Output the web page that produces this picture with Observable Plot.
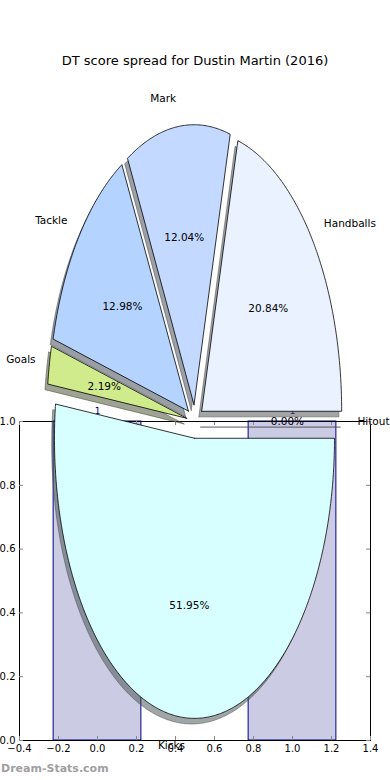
<!DOCTYPE html>
<html><head><meta charset="utf-8">
<script src="https://cdn.jsdelivr.net/npm/d3@7"></script>
<script src="https://cdn.jsdelivr.net/npm/@observablehq/plot@0.6"></script>
<style>
body{margin:0;background:#fff;font-family:"DejaVu Sans",sans-serif;}
#wrap{position:relative;width:390px;height:780px;overflow:hidden;}
#chart{position:absolute;left:0;top:0;}
#title{position:absolute;left:0;width:390px;top:53px;text-align:center;font-size:13px;line-height:16px;color:#000;}
#wm{position:absolute;left:1px;top:762px;font-size:11px;font-weight:bold;color:#a0a0a0;}
</style></head><body>
<div id="wrap"><div id="chart"></div><div id="title">DT score spread for Dustin Martin (2016)</div><div id="wm">Dream-Stats.com</div></div>
<script>
// ---- data ----
const sliceLabels = ["Handballs", "Mark", "Tackle", "Goals", "Kicks", "Hitout"];
const sliceValues = [20.84, 12.04, 12.98, 2.19, 51.95, 0.00];
const sliceColors = ["#eaf2ff", "#c4d9ff", "#b4d4ff", "#cfeb8c", "#d8ffff", "#e6e6ff"];
const barX = [0, 1];
const barValues = [1, 1];
const xTicks = [-0.4, -0.2, 0, 0.2, 0.4, 0.6, 0.8, 1.0, 1.2, 1.4];
const yTicks = [0, 0.2, 0.4, 0.6, 0.8, 1.0];

// ---- geometry (data units) ----
const pieCx = 0.5, pieCy = 1.0, pieRx = 0.718, pieRy = 0.878;
const explode = 0.06, labelDist = 1.1, pctDist = 0.6;
const shadowDx = -0.02 * pieRx, shadowDy = -0.02 * pieRy;
const barWidth = 0.45;
const tickLenX = 4 / 319, tickLenY = 4 / 195;

const total = d3.sum(sliceValues);
let acc = 0;
const slices = sliceLabels.map((label, i) => {
  const t1 = acc / total * 360; acc += sliceValues[i]; const t2 = acc / total * 360;
  const mid = (t1 + t2) / 2 * Math.PI / 180;
  const cx = pieCx + explode * pieRx * Math.cos(mid);
  const cy = pieCy + explode * pieRy * Math.sin(mid);
  const pts = [[cx, cy]];
  const n = Math.max(1, Math.ceil((t2 - t1) / 0.5));
  for (let k = 0; k <= n; k++) {
    const a = (t1 + (t2 - t1) * k / n) * Math.PI / 180;
    pts.push([cx + pieRx * Math.cos(a), cy + pieRy * Math.sin(a)]);
  }
  pts.push([cx, cy]);
  const c = d3.rgb(sliceColors[i]);
  return {
    label, value: sliceValues[i], color: sliceColors[i],
    shadow: d3.rgb(c.r * 0.3, c.g * 0.3, c.b * 0.3).formatHex(),
    pts, mid,
    lx: cx + labelDist * pieRx * Math.cos(mid), ly: cy + labelDist * pieRy * Math.sin(mid),
    px: cx + pctDist * pieRx * Math.cos(mid), py: cy + pctDist * pieRy * Math.sin(mid)
  };
});
const bars = barX.map((x, i) => ({x, v: barValues[i]}));
const fmt = d3.format(".1f");

const marks = [
  Plot.rectY(bars, {x1: d => d.x - barWidth / 2, x2: d => d.x + barWidth / 2, y1: 0, y2: d => d.v,
    fill: "#cbcbe3", stroke: "#00008b", strokeWidth: 1}),
  Plot.text(bars, {x: "x", y: "v", text: d => String(d.v), dy: -10, fill: "#00008b", fontSize: 9}),
  Plot.frame({stroke: "black", strokeWidth: 1}),
  Plot.ruleX(xTicks, {x: d => d, y1: 0, y2: tickLenX, stroke: "#888"}),
  Plot.ruleX(xTicks, {x: d => d, y1: 1 - tickLenX, y2: 1, stroke: "#888"}),
  Plot.ruleY(yTicks, {y: d => d, x1: -0.4, x2: -0.4 + tickLenY, stroke: "#888"}),
  Plot.ruleY(yTicks, {y: d => d, x1: 1.4 - tickLenY, x2: 1.4, stroke: "#888"}),
  Plot.axisX({ticks: xTicks, tickFormat: fmt, tickSize: 0, tickPadding: 4, label: null, fontSize: 10}),
  Plot.axisY({ticks: yTicks, tickFormat: fmt, tickSize: 0, tickPadding: 4, label: null, fontSize: 10}),
  ...slices.map(s => Plot.line(s.pts, {x: d => d[0] + shadowDx, y: d => d[1] + shadowDy,
    fill: s.shadow, fillOpacity: 0.5, stroke: s.shadow, strokeOpacity: 0.5, strokeWidth: 1})),
  ...slices.map(s => Plot.line(s.pts, {x: d => d[0], y: d => d[1],
    fill: s.color, stroke: "black", strokeWidth: 0.8})),
  Plot.text(slices, {x: "px", y: "py", text: d => d.value.toFixed(2) + "%", fontSize: 10.5, fill: "black"}),
  Plot.text(slices.filter(s => Math.cos(s.mid) > 0), {x: "lx", y: "ly", text: "label", textAnchor: "start", fontSize: 10.5, fill: "black"}),
  Plot.text(slices.filter(s => Math.cos(s.mid) <= 0), {x: "lx", y: "ly", text: "label", textAnchor: "end", fontSize: 10.5, fill: "black"})
];

const chart = Plot.plot({
  width: 390, height: 780,
  marginLeft: 19, marginRight: 20, marginTop: 421, marginBottom: 40,
  x: {domain: [-0.4, 1.4]},
  y: {domain: [0, 1]},
  style: {fontFamily: "DejaVu Sans", fontSize: "10px", background: "white", overflow: "visible", color: "black"},
  marks
});
document.getElementById("chart").appendChild(chart);
</script>
</body></html>
